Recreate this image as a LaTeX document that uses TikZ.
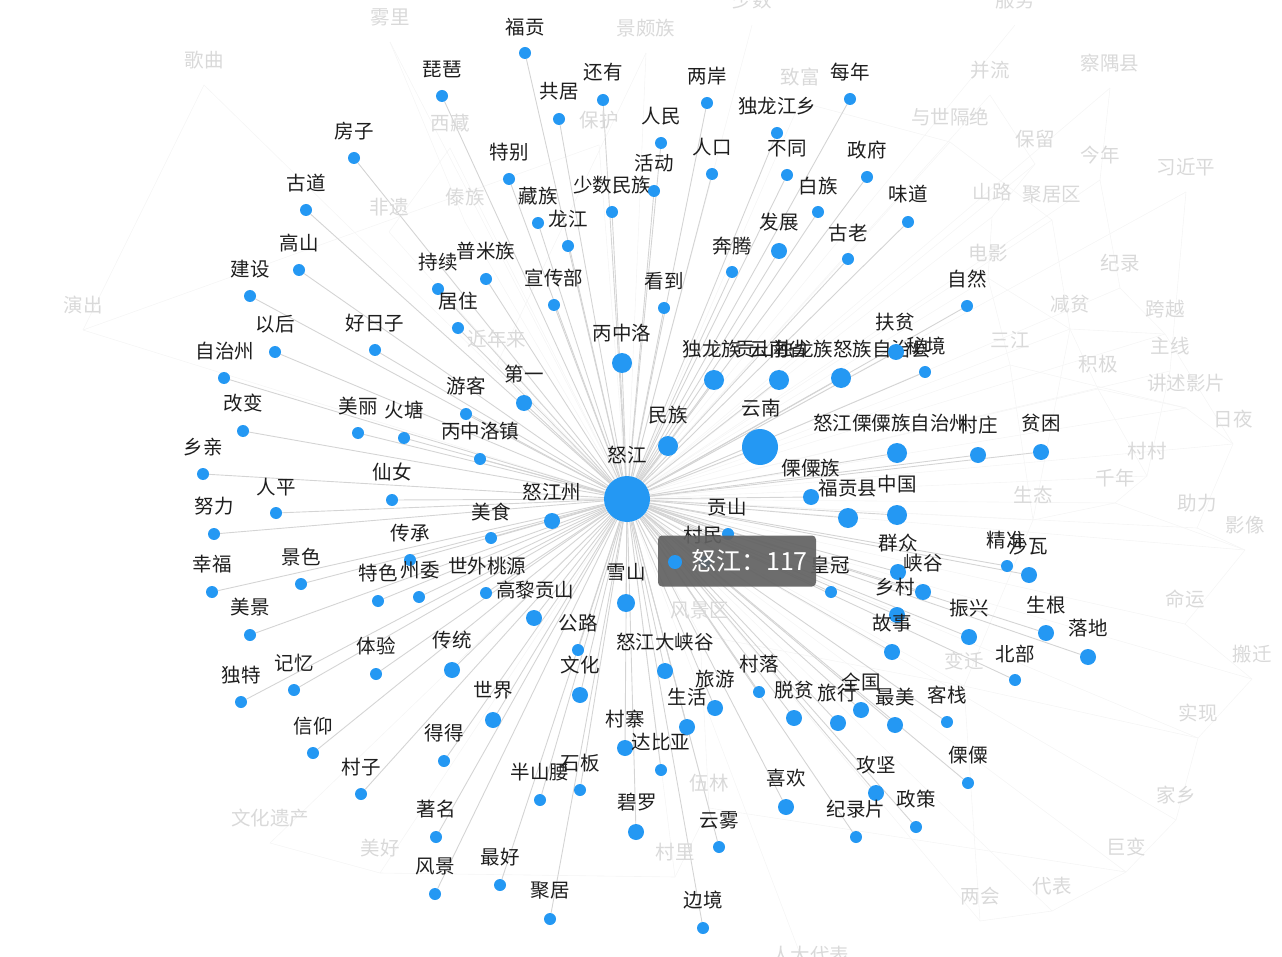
\documentclass[tikz,border=0pt]{standalone}
\usepackage{fontspec}
\setmainfont{Noto Sans CJK SC}
\definecolor{dotblue}{RGB}{36,152,243}
\definecolor{ink}{RGB}{30,30,30}
\pgfdeclarelayer{bg}
\pgfsetlayers{bg,main}
\begin{document}
\begin{tikzpicture}[x=1pt, y=-1pt,
  dot/.style={circle, fill=dotblue, inner sep=0pt},
  lbl/.style={text=ink, inner sep=0pt, font=\fontsize{19.5}{21}\selectfont},
  faded/.style={text=black!15, inner sep=0pt, font=\fontsize{19.5}{21}\selectfont},
  edge/.style={draw=black!17, line width=0.9pt},
  web/.style={draw=black!4, line width=0.6pt},
  tipbox/.style={rounded corners=4pt, fill=black!62, opacity=0.92, minimum width=158, minimum height=51, inner sep=0pt}]
\useasboundingbox (0,0) rectangle (1282,957);
\node[dot, minimum size=46] (hub) at (627,499) {};
\node[lbl] (hublbl) at (627,455) {怒江};
% faded words in the back
\foreach \x/\y/\lab [count=\j] in {390/17/雾里, 204/60/歌曲, 646/28/景颇族, 450/123/西藏, 599/120/保护,
  465/197/傣族, 389/207/非遗, 497/339/近年来, 800/77/致富, 990/70/并流, 1110/63/察隅县,
  950/117/与世隔绝, 1035/139/保留, 1100/155/今年, 1186/167/习近平, 992/192/山路, 1052/195/聚居区,
  988/253/电影, 1120/263/纪录, 1070/304/减贫, 1165/309/跨越, 1010/340/三江, 1170/346/主线,
  1098/364/积极, 1186/383/讲述影片, 1233/419/日夜, 1147/451/村村, 1115/478/千年, 1033/495/生态,
  1197/503/助力, 1245/525/影像, 1185/599/命运, 1252/654/搬迁, 964/661/变迁, 1198/713/实现,
  1176/795/家乡, 1126/847/巨变, 1052/886/代表, 980/896/两会, 83/305/演出, 270/818/文化遗产,
  380/848/美好, 675/852/村里, 709/783/伍林, 700/610/风景区, 752/0/少数, 1015/0/服务, 810/955/人大代表}
{
  \node[faded] (fl\j) at (\x,\y) {\lab};
  \coordinate (f\j) at (\x,\y+25);
  \begin{pgfonlayer}{bg}
    \draw[web] (hub) -- (f\j);
  \end{pgfonlayer}
}
\begin{pgfonlayer}{bg}
\foreach \a/\b in {18/22, 18/20, 20/21, 20/24, 20/29, 21/26, 22/25, 24/25, 24/27, 25/26,
  27/28, 28/29, 28/31, 29/34, 30/31, 31/32, 32/33, 33/35, 34/35, 35/36, 36/37, 37/38, 38/39,
  39/34, 13/16, 12/17, 15/23, 14/19, 9/12, 10/13, 11/14, 22/29, 26/30, 19/21, 23/27, 16/18, 17/20,
  40/5, 41/42, 42/43, 43/44, 44/45, 4/7, 1/6, 2/40, 3/8, 45/34, 44/37}
  \draw[web] (f\a) -- (f\b);
\end{pgfonlayer}
% words linked to the hub
\foreach \x/\y/\rr/\lx/\ly/\lab [count=\i] in {
  525/53/6/525/27/福贡, 442/96/6/442/69/琵琶, 603/100/6/603/72/还有, 559/119/6/559/91/共居,
  354/158/6/354/131/房子, 509/179/6/509/152/特别, 306/210/6/306/183/古道, 538/223/6/538/196/藏族,
  612/212/6/612/185/少数民族, 568/246/6/568/219/龙江, 299/270/6/299/243/高山, 250/296/6/250/269/建设,
  438/289/6/438/262/持续, 486/279/6/486/251/普米族, 554/305/6/554/278/宣传部, 458/328/6/458/301/居住,
  275/352/6/275/324/以后, 375/350/6/375/323/好日子, 224/378/6/225/351/自治州, 243/431/6/243/403/改变,
  466/414/6/466/386/游客, 524/403/8/524/374/第一, 358/433/6/358/406/美丽, 404/438/6/404/410/火塘,
  480/459/6/480/431/丙中洛镇, 203/474/6/203/447/乡亲, 392/500/6/392/472/仙女, 276/513/6/276/487/人平,
  214/534/6/214/506/努力, 552/521/8/552/492/怒江州, 491/538/6/491/512/美食, 410/560/6/410/533/传承,
  212/592/6/212/564/幸福, 301/584/6/301/557/景色, 378/601/6/378/573/特色, 419/597/6/420/570/州委,
  486/593/6/487/566/世外桃源, 534/618/8/535/590/高黎贡山, 250/635/6/250/607/美景, 626/603/9/626/572/雪山,
  578/650/6/578/623/公路, 376/674/6/376/646/体验, 452/670/8/452/640/传统, 294/690/6/294/663/记忆,
  241/702/6/241/675/独特, 580/695/8/580/665/文化, 493/720/8/493/690/世界, 313/753/6/313/726/信仰,
  444/761/6/444/733/得得, 361/794/6/361/767/村子, 540/800/6/540/772/半山腰, 580/790/6/580/763/石板,
  436/837/6/436/809/著名, 435/894/6/435/866/风景, 500/885/6/500/857/最好, 550/919/6/550/891/聚居,
  625/748/8/625/719/村寨, 661/770/6/661/742/达比亚, 636/832/8/637/802/碧罗, 687/727/8/687/697/生活,
  715/708/8/715/679/旅游, 665/671/8/665/642/怒江大峡谷, 759/692/6/759/664/村落, 794/718/8/794/690/脱贫,
  838/723/8/837/693/旅行, 861/710/8/861/682/全国, 895/725/8/895/697/最美, 947/722/6/947/695/客栈,
  719/847/6/719/820/云雾, 703/928/6/703/900/边境, 786/807/8/786/778/喜欢, 876/793/8/876/765/攻坚,
  856/837/6/856/809/纪录片, 916/827/6/916/799/政策, 968/783/6/968/755/傈僳, 898/572/8/898/543/群众,
  923/592/8/923/563/峡谷, 897/615/8/895/587/乡村, 892/652/8/892/623/故事, 969/637/8/969/608/振兴,
  1046/633/8/1046/605/生根, 1088/657/8/1088/628/落地, 1015/680/6/1015/654/北部, 1007/566/6/1006/540/精准,
  1029/575/8/1028/546/沙瓦, 1041/452/8/1041/423/贫困, 978/455/8/978/425/村庄,
  897/453/10/891/423/怒江傈僳族自治州, 897/515/10/897/484/中国, 848/518/10/848/488/福贡县,
  811/497/8/811/468/傈僳族, 728/534/6/727/507/贡山, 705/562/6/703/535/村民, 831/592/6/830/565/皇冠,
  760/447/18/761/408/云南, 668/446/10/668/415/民族, 622/363/10/622/333/丙中洛, 714/380/10/712/349/独龙族,
  779/380/10/779/349/云南省, 841/378/10/833/349/贡山独龙族怒族自治县, 896/352/8/895/322/扶贫,
  925/372/6/926/346/秘境, 967/306/6/967/279/自然, 908/222/6/908/194/味道, 707/103/6/707/76/两岸,
  850/99/6/850/72/每年, 661/143/6/661/116/人民, 777/133/6/777/106/独龙江乡, 712/174/6/712/147/人口,
  787/175/6/787/149/不同, 867/177/6/867/150/政府, 654/191/6/654/163/活动, 818/212/6/818/186/白族,
  779/251/8/779/222/发展, 848/259/6/848/233/古老, 732/272/6/732/246/奔腾, 664/308/6/664/281/看到}
{
  \node[dot, minimum size=2*\rr] (n\i) at (\x,\y) {};
  \node[lbl] (t\i) at (\lx,\ly) {\lab};
  \begin{pgfonlayer}{bg}
    \draw[edge] (hub) -- (n\i);
  \end{pgfonlayer}
}
% tooltip over the hub
\node[tipbox] (tip) at (737,561) {};
\node[dot, minimum size=14] (tipdot) at (675,562) {};
\node[text=white, inner sep=0pt, anchor=west, font=\fontsize{25}{27}\selectfont] (tiptext) at (691,561) {怒江：117};
\end{tikzpicture}
\end{document}
